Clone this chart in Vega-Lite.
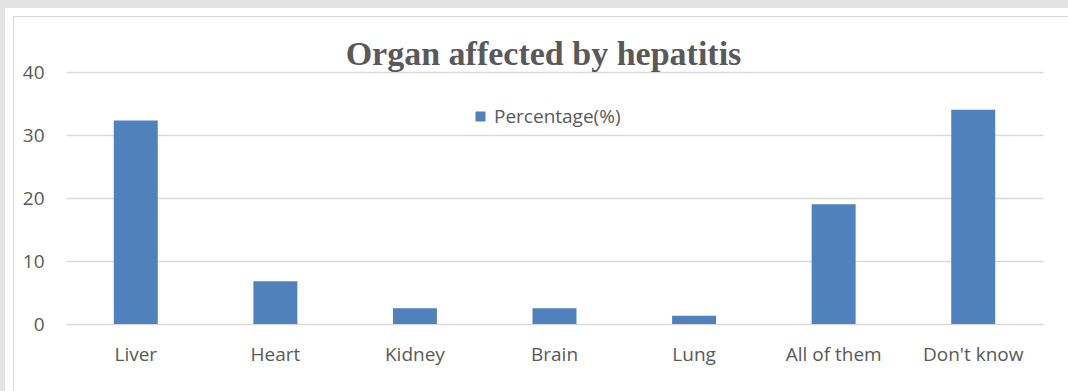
{
  "$schema": "https://vega.github.io/schema/vega-lite/v6.json",
  "background": "white",
  "padding": 0,
  "spacing": 0,
  "config": {
    "view": {"stroke": null},
    "font": "Open Sans"
  },
  "datasets": {
    "organs": [
      {"organ": "Liver", "percentage": 32.3},
      {"organ": "Heart", "percentage": 6.8},
      {"organ": "Kidney", "percentage": 2.5},
      {"organ": "Brain", "percentage": 2.5},
      {"organ": "Lung", "percentage": 1.3},
      {"organ": "All of them", "percentage": 19.0},
      {"organ": "Don't know", "percentage": 34.0}
    ],
    "none": []
  },
  "vconcat": [
    {
      "data": {"name": "none"},
      "mark": "rect",
      "encoding": {},
      "width": 1068,
      "height": 8,
      "view": {"fill": "#e3e3e3", "stroke": null}
    },
    {
      "data": {"name": "none"},
      "mark": "rect",
      "encoding": {},
      "width": 5,
      "height": 8,
      "view": {"fill": "#e3e3e3", "stroke": null}
    },
    {
      "spacing": 8,
      "hconcat": [
        {
          "data": {"name": "none"},
          "mark": "rect",
          "encoding": {},
          "width": 5,
          "height": 1,
          "view": {"fill": "#e3e3e3", "stroke": null}
        },
        {
          "data": {"name": "none"},
          "mark": "rect",
          "encoding": {},
          "width": 1055,
          "height": 1,
          "view": {"fill": "#d9d9d9", "stroke": null}
        }
      ]
    },
    {
      "spacing": 0,
      "hconcat": [
        {
          "spacing": 8,
          "hconcat": [
            {
              "data": {"name": "none"},
              "mark": "rect",
              "encoding": {},
              "width": 5,
              "height": 374,
              "view": {"fill": "#e3e3e3", "stroke": null}
            },
            {
              "data": {"name": "none"},
              "mark": "rect",
              "encoding": {},
              "width": 1,
              "height": 374,
              "view": {"fill": "#d9d9d9", "stroke": null}
            }
          ]
        },
        {
          "spacing": 0,
          "vconcat": [
            {
              "data": {"name": "none"},
              "mark": "rect",
              "encoding": {},
              "width": 1,
              "height": 21,
              "view": {"fill": null, "stroke": null}
            },
            {
              "title": {
                "text": "Organ affected by hepatitis",
                "font": "Liberation Serif",
                "fontSize": 34,
                "fontWeight": "bold",
                "color": "#595959",
                "anchor": "middle",
                "frame": "group",
                "baseline": "alphabetic",
                "offset": -36,
                "dx": -11
              },
              "data": {"name": "organs"},
              "width": 977,
              "height": 252,
              "mark": {"type": "bar", "color": "#4f81bd", "width": {"band": 0.315}},
              "encoding": {
                "x": {
                  "field": "organ",
                  "type": "nominal",
                  "sort": null,
                  "scale": {"paddingInner": 0, "paddingOuter": 0},
                  "axis": {
                    "title": null,
                    "labelAngle": 0,
                    "ticks": false,
                    "tickSize": 0,
                    "domain": false,
                    "labelPadding": 21,
                    "labelFont": "Open Sans",
                    "labelFontSize": 19,
                    "labelColor": "#595959"
                  }
                },
                "y": {
                  "field": "percentage",
                  "type": "quantitative",
                  "scale": {"domain": [0, 40], "nice": false},
                  "axis": {
                    "title": null,
                    "values": [0, 10, 20, 30, 40],
                    "ticks": false,
                    "tickSize": 0,
                    "domain": false,
                    "grid": true,
                    "gridColor": "#d9d9d9",
                    "gridWidth": 1.5,
                    "labelPadding": 22,
                    "minExtent": 52,
                    "labelFont": "Open Sans",
                    "labelFontSize": 19,
                    "labelColor": "#595959"
                  }
                },
                "color": {
                  "datum": "Percentage(%)",
                  "scale": {"range": ["#4f81bd"]},
                  "legend": {
                    "title": null,
                    "orient": "none",
                    "legendX": 471,
                    "legendY": 107,
                    "padding": 0,
                    "symbolType": "square",
                    "symbolSize": 100,
                    "symbolStrokeWidth": 0,
                    "labelOffset": 4,
                    "labelFont": "Open Sans",
                    "labelFontSize": 19,
                    "labelColor": "#595959"
                  }
                }
              }
            }
          ]
        }
      ]
    }
  ]
}
